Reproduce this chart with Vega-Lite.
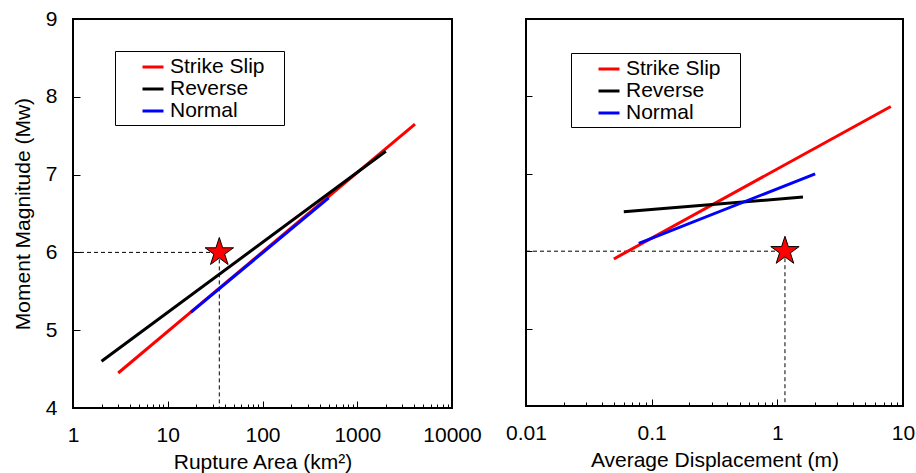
{
  "$schema": "https://vega.github.io/schema/vega-lite/v6.json",
  "background": "white",
  "padding": {"left": 11, "top": 7, "right": 5, "bottom": 0},
  "bounds": "flush",
  "spacing": 74,
  "config": {
    "font": "Liberation Sans",
    "view": {"stroke": "black", "strokeWidth": 2},
    "axis": {
      "domain": false, "grid": false, "ticks": true, "tickColor": "black",
      "tickSize": -5, "tickWidth": 1, "labelFontSize": 21, "labelColor": "black",
      "titleFontSize": 21, "titleFontWeight": "normal", "titleColor": "black",
      "labelOverlap": false, "labelFlush": false, "labelBound": false
    },
    "legend": {
      "orient": "none", "symbolType": "stroke", "symbolStrokeWidth": 3, "symbolSize": 441,
      "strokeColor": "black", "fillColor": "white", "padding": 4, "labelFontSize": 21,
      "labelColor": "black", "symbolOffset": 22, "labelOffset": 5, "rowPadding": 0
    }
  },
  "datasets": {
    "lines": [
      {"panel": "A", "type": "Strike Slip", "x": 3, "y": 4.45},
      {"panel": "A", "type": "Strike Slip", "x": 4070, "y": 7.65},
      {"panel": "A", "type": "Reverse", "x": 2, "y": 4.6},
      {"panel": "A", "type": "Reverse", "x": 2000, "y": 7.3},
      {"panel": "A", "type": "Normal", "x": 17.5, "y": 5.23},
      {"panel": "A", "type": "Normal", "x": 500, "y": 6.7},
      {"panel": "B", "type": "Strike Slip", "x": 0.05, "y": 5.9},
      {"panel": "B", "type": "Strike Slip", "x": 8, "y": 7.87},
      {"panel": "B", "type": "Reverse", "x": 0.06, "y": 6.51},
      {"panel": "B", "type": "Reverse", "x": 1.6, "y": 6.7},
      {"panel": "B", "type": "Normal", "x": 0.079, "y": 6.1},
      {"panel": "B", "type": "Normal", "x": 2.0, "y": 7.0}
    ],
    "guides": [
      {"panel": "A", "seg": "h", "x": 1, "y": 6},
      {"panel": "A", "seg": "h", "x": 35, "y": 6},
      {"panel": "A", "seg": "v", "x": 35, "y": 6},
      {"panel": "A", "seg": "v", "x": 35, "y": 4},
      {"panel": "B", "seg": "h", "x": 0.01, "y": 6},
      {"panel": "B", "seg": "h", "x": 1.15, "y": 6},
      {"panel": "B", "seg": "v", "x": 1.15, "y": 6},
      {"panel": "B", "seg": "v", "x": 1.15, "y": 4}
    ],
    "stars": [
      {"panel": "A", "x": 35, "y": 6},
      {"panel": "B", "x": 1.15, "y": 6}
    ]
  },
  "resolve": {"legend": {"color": "independent"}, "scale": {"x": "independent"}},
  "hconcat": [
    {
      "width": 379, "height": 389,
      "layer": [
        {
          "data": {"name": "guides"},
          "transform": [{"filter": "datum.panel == 'A'"}],
          "mark": {"type": "line", "color": "black", "strokeWidth": 1, "strokeDash": [4, 3]},
          "encoding": {
            "x": {"field": "x", "type": "quantitative", "scale": {"type": "log", "domain": [1, 10000]}},
            "y": {"field": "y", "type": "quantitative", "scale": {"domain": [4, 9]}},
            "detail": {"field": "seg"}
          }
        },
        {
          "data": {"name": "lines"},
          "transform": [{"filter": "datum.panel == 'A'"}],
          "mark": {"type": "line", "strokeWidth": 3},
          "encoding": {
            "x": {"field": "x", "type": "quantitative",
              "scale": {"type": "log", "domain": [1, 10000]},
              "axis": {
                "title": "Rupture Area (km²)",
                "values": [1,2,3,4,5,6,7,8,9,10,20,30,40,50,60,70,80,90,100,200,300,400,500,600,700,800,900,1000,2000,3000,4000,5000,6000,7000,8000,9000,10000],
                "labelExpr": "indexof([1,10,100,1000,10000], datum.value) >= 0 ? format(datum.value, 'd') : ''",
                "tickSize": {"condition": {"test": "indexof([1,10,100,1000,10000], datum.value) >= 0", "value": -7}, "value": -4},
                "labelPadding": 23, "titlePadding": 3
              }
            },
            "y": {"field": "y", "type": "quantitative",
              "scale": {"domain": [4, 9]},
              "axis": {
                "title": "Moment Magnitude (Mw)",
                "values": [4,4.5,5,5.5,6,6.5,7,7.5,8,8.5,9],
                "labelExpr": "datum.value % 1 == 0 ? format(datum.value, 'd') : ''",
                "tickSize": -7,
                "labelPadding": 23, "titlePadding": 12
              }
            },
            "color": {"field": "type", "type": "nominal",
              "scale": {"domain": ["Strike Slip", "Reverse", "Normal"], "range": ["#ff0000", "#000000", "#0000ff"]},
              "legend": {"title": null, "legendX": 42, "legendY": 32, "labelExpr": "datum.label + '\u2800'"}
            }
          }
        },
        {
          "data": {"name": "stars"},
          "transform": [{"filter": "datum.panel == 'A'"}],
          "mark": {"type": "point", "filled": true, "fill": "#ff0000", "stroke": "black", "strokeWidth": 1, "opacity": 1, "size": 890,
            "shape": "M0,-1 L0.2245,-0.309 L0.951,-0.309 L0.363,0.118 L0.588,0.809 L0,0.382 L-0.588,0.809 L-0.363,0.118 L-0.951,-0.309 L-0.2245,-0.309 Z"},
          "encoding": {
            "x": {"field": "x", "type": "quantitative"},
            "y": {"field": "y", "type": "quantitative"}
          }
        }
      ]
    },
    {
      "width": 377, "height": 387,
      "layer": [
        {
          "data": {"name": "guides"},
          "transform": [{"filter": "datum.panel == 'B'"}],
          "mark": {"type": "line", "color": "black", "strokeWidth": 1, "strokeDash": [4, 3]},
          "encoding": {
            "x": {"field": "x", "type": "quantitative", "scale": {"type": "log", "domain": [0.01, 10]}},
            "y": {"field": "y", "type": "quantitative", "scale": {"domain": [4, 9]}},
            "detail": {"field": "seg"}
          }
        },
        {
          "data": {"name": "lines"},
          "transform": [{"filter": "datum.panel == 'B'"}],
          "mark": {"type": "line", "strokeWidth": 3},
          "encoding": {
            "x": {"field": "x", "type": "quantitative",
              "scale": {"type": "log", "domain": [0.01, 10]},
              "axis": {
                "title": "Average Displacement (m)",
                "values": [0.01,0.02,0.03,0.04,0.05,0.06,0.07,0.08,0.09,0.1,0.2,0.3,0.4,0.5,0.6,0.7,0.8,0.9,1,2,3,4,5,6,7,8,9,10],
                "labelExpr": "indexof([0.01,0.1,1,10], datum.value) >= 0 ? format(datum.value, '~g') : ''",
                "tickSize": {"condition": {"test": "indexof([0.01,0.1,1,10], datum.value) >= 0", "value": -7}, "value": -4},
                "labelPadding": 23, "titlePadding": 3
              }
            },
            "y": {"field": "y", "type": "quantitative",
              "scale": {"domain": [4, 9]},
              "axis": {
                "title": null,
                "values": [4,4.5,5,5.5,6,6.5,7,7.5,8,8.5,9],
                "tickSize": -6,
                "labels": false
              }
            },
            "color": {"field": "type", "type": "nominal",
              "scale": {"domain": ["Strike Slip", "Reverse", "Normal"], "range": ["#ff0000", "#000000", "#0000ff"]},
              "legend": {"title": null, "legendX": 45, "legendY": 34, "labelExpr": "datum.label + '\u2800'"}
            }
          }
        },
        {
          "data": {"name": "stars"},
          "transform": [{"filter": "datum.panel == 'B'"}],
          "mark": {"type": "point", "filled": true, "fill": "#ff0000", "stroke": "black", "strokeWidth": 1, "opacity": 1, "size": 890,
            "shape": "M0,-1 L0.2245,-0.309 L0.951,-0.309 L0.363,0.118 L0.588,0.809 L0,0.382 L-0.588,0.809 L-0.363,0.118 L-0.951,-0.309 L-0.2245,-0.309 Z"},
          "encoding": {
            "x": {"field": "x", "type": "quantitative"},
            "y": {"field": "y", "type": "quantitative"}
          }
        }
      ]
    }
  ]
}
